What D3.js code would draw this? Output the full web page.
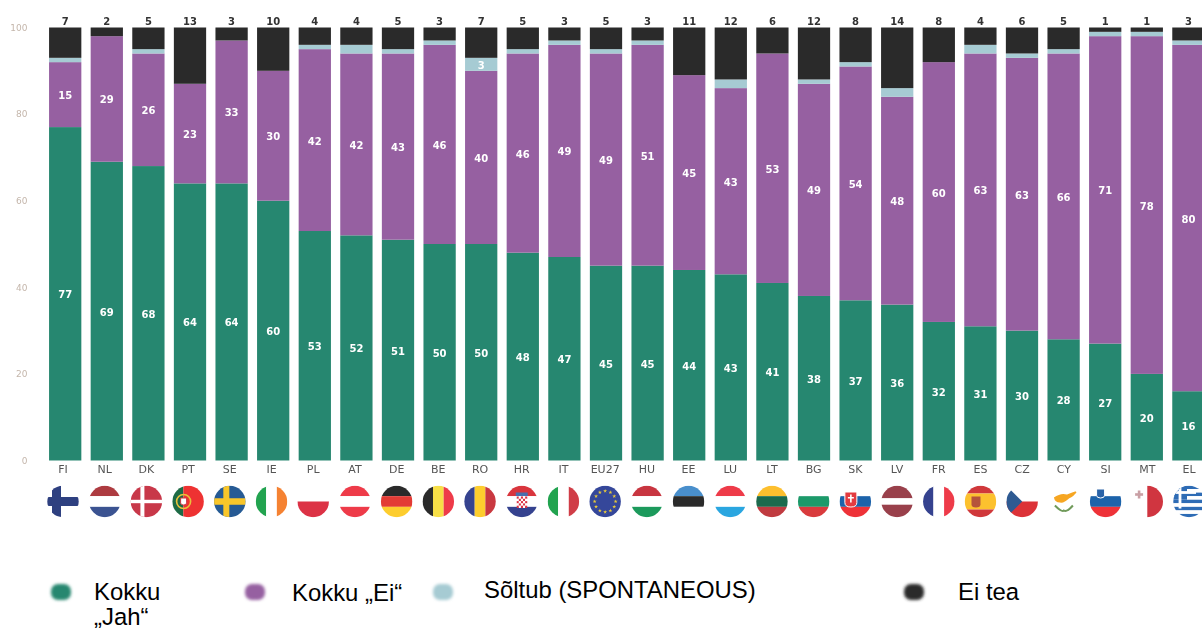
<!DOCTYPE html>
<html><head><meta charset="utf-8">
<script src="https://cdn.jsdelivr.net/npm/d3@7/dist/d3.min.js"></script>
<style>html,body{margin:0;padding:0;background:#fff;overflow:hidden}svg{display:block}</style>
</head><body><svg id="c" width="1202" height="630"></svg>
<script>
const categories=["FI","NL","DK","PT","SE","IE","PL","AT","DE","BE","RO","HR","IT","EU27","HU","EE","LU","LT","BG","SK","LV","FR","ES","CZ","CY","SI","MT","EL"];
const yesValues=[77,69,68,64,64,60,53,52,51,50,50,48,47,45,45,44,43,41,38,37,36,32,31,30,28,27,20,16];
const noValues=[15,29,26,23,33,30,42,42,43,46,40,46,49,49,51,45,43,53,49,54,48,60,63,63,66,71,78,80];
const dependsValues=[1,0,1,0,0,0,1,2,1,1,3,1,1,1,1,0,2,0,1,1,2,0,2,1,1,1,1,1];
const dontKnowValues=[7,2,5,13,3,10,4,4,5,3,7,5,3,5,3,11,12,6,12,8,14,8,4,6,5,1,1,3];
const yTicks=[0,20,40,60,80,100];
const seriesNames=["Kokku „Jah“","Kokku „Ei“","Sõltub (SPONTANEOUS)","Ei tea"];

const colors=["#288770","#9660a1","#a6cbd3","#2b2b2b"];
const series=[yesValues,noValues,dependsValues,dontKnowValues];
const svg=d3.select("#c");
const defs=svg.append("defs");
defs.append("filter").attr("id","soft").attr("x","-5%").attr("y","-5%").attr("width","110%").attr("height","110%")
  .append("feGaussianBlur").attr("stdDeviation",0.5);
defs.append("filter").attr("id","softDot").attr("x","-50%").attr("y","-50%").attr("width","200%").attr("height","200%")
  .append("feGaussianBlur").attr("stdDeviation",1.4);

const x=d3.scaleBand().domain(categories).range([44.4,1209.2]).paddingInner(0.224).paddingOuter(0.112);
const y=d3.scaleLinear().domain([0,100]).range([460.5,27.5]);
const labelX=d3.scalePoint().domain(categories).range([63,1189]);

const chart=svg.append("g").attr("filter","url(#soft)");
const stack=d3.stack().keys(d3.range(4)).value((d,k)=>series[k][d])(d3.range(categories.length));

const axis=d3.axisLeft(y).tickValues(yTicks).tickSize(0).tickPadding(0);
const yg=chart.append("g").attr("transform","translate(27.5,0)").call(axis);
yg.select(".domain").remove();
yg.selectAll("text").attr("font-family","DejaVu Sans").attr("font-size",9).attr("fill","#c4b6ab");

chart.selectAll("g.s").data(stack).join("g").attr("class","s").attr("fill",(d,i)=>colors[i])
 .selectAll("rect").data(d=>d.filter(p=>p[1]>p[0]).map(p=>({p,i:p.data}))).join("rect")
 .attr("x",d=>x(categories[d.i])).attr("width",x.bandwidth())
 .attr("y",d=>y(d.p[1])).attr("height",d=>y(d.p[0])-y(d.p[1]));

const valueLabels=[];
stack.forEach((s,k)=>s.forEach((p,i)=>{
  const v=series[k][i];
  if(k<2||(k===2&&v>=3)) valueLabels.push({i,v,m:(p[0]+p[1])/2});
}));
chart.append("g").selectAll("text").data(valueLabels).join("text")
 .attr("x",d=>x(categories[d.i])+x.bandwidth()/2).attr("y",d=>y(d.m)+4.5)
 .attr("text-anchor","middle").attr("font-family","DejaVu Sans").attr("font-weight","bold")
 .attr("font-size",10).attr("fill","#fff").text(d=>d.v);
chart.append("g").selectAll("text").data(categories).join("text")
 .attr("x",c=>x(c)+x.bandwidth()/2).attr("y",24.5)
 .attr("text-anchor","middle").attr("font-family","DejaVu Sans").attr("font-weight","bold")
 .attr("font-size",10).attr("fill","#333").text((c,i)=>dontKnowValues[i]);
chart.append("g").selectAll("text").data(categories).join("text")
 .attr("x",c=>labelX(c)).attr("y",473)
 .attr("text-anchor","middle").attr("font-family","DejaVu Sans")
 .attr("font-size",11).attr("fill","#555").text(c=>c);

// Flags
const R=16;
const C={bl:"#34438f",wh:"#fff",rd:"#ee3a4a",dr:"#c9383f",gr:"#21a350",ye:"#fdcd2f",bk:"#2b2b2b",sb:"#1f63aa"};
const cross=(g,c,vx,vw,hw)=>{
  g.append("rect").attr("x",vx).attr("y",-R).attr("width",vw).attr("height",2*R).attr("fill",c);
  g.append("rect").attr("x",-R).attr("y",-hw/2).attr("width",2*R).attr("height",hw).attr("fill",c);
};
const shield=(g,sx,sy,w,h,c,s)=>g.append("path")
  .attr("d",`M${sx-w/2},${sy-h/2}H${sx+w/2}V${sy+h/5}Q${sx+w/2},${sy+h/2} ${sx},${sy+h/2}Q${sx-w/2},${sy+h/2} ${sx-w/2},${sy+h/5}Z`)
  .attr("fill",c).attr("stroke",s||"none").attr("stroke-width",1);
const flags={
 FI:{h:[[C.wh,1]],x:g=>{
   g.append("rect").attr("x",-11).attr("y",-R).attr("width",9).attr("height",2*R).attr("fill","#2f3f80");
   g.append("rect").attr("x",-R).attr("y",-4.6).attr("width",2*R).attr("height",9.2).attr("rx",2).attr("fill","#2f3f80");}},
 NL:{h:[["#ad3a41",1],[C.wh,1],["#3a5291",1]]},
 DK:{h:[["#c8374a",1]],x:g=>cross(g,C.wh,-6,4,3.4)},
 PT:{v:[["#1f6b45",35],["#ee3333",65]],x:g=>{
   g.append("circle").attr("cx",-4.5).attr("r",7).attr("fill","none").attr("stroke","#e8c23a").attr("stroke-width",1.6);
   shield(g,-4.5,0,6,7,"#fff","#c9383f");}},
 SE:{h:[["#255a94",1]],x:g=>cross(g,"#f9c62a",-6.5,6,6.5)},
 IE:{v:[[C.gr,1],[C.wh,1],["#f58233",1]]},
 PL:{h:[[C.wh,1],["#dc3045",1]]},
 AT:{h:[[C.rd,1],[C.wh,1],[C.rd,1]]},
 DE:{h:[[C.bk,1],["#e33b35",1],[C.ye,1]]},
 BE:{v:[[C.bk,1],["#f7df47",1],[C.rd,1]]},
 RO:{v:[[C.bl,1],[C.ye,1],[C.dr,1]]},
 HR:{h:[["#d9363e",1],[C.wh,1],[C.bl,1]],x:g=>{
   const n=d3.range(5);
   g.append("g").selectAll("rect").data(d3.cross(n,n)).join("rect")
    .attr("x",d=>-5+d[0]*2.1).attr("y",d=>-5+d[1]*2.3).attr("width",2.1).attr("height",2.3)
    .attr("fill",d=>(d[0]+d[1])%2?"#fff":"#dd3344");
   g.append("rect").attr("x",-6).attr("y",-9).attr("width",12).attr("height",3.5).attr("fill","#4a6fae");}},
 IT:{v:[[C.gr,1],[C.wh,1],["#d03e47",1]]},
 EU27:{h:[["#34479a",1]],x:g=>{
   g.append("g").selectAll("path").data(d3.range(12)).join("path")
    .attr("d",d3.symbol(d3.symbolStar,5))
    .attr("transform",a=>`translate(${10.5*Math.sin(a*Math.PI/6)},${-10.5*Math.cos(a*Math.PI/6)})`)
    .attr("fill","#e8c93a");}},
 HU:{h:[["#c8353f",1],[C.wh,1],["#1f9a5b",1]]},
 EE:{h:[["#4a8fcc",1],[C.bk,1],[C.wh,1]]},
 LU:{h:[[C.rd,1],[C.wh,1],["#2aa6e0",1]]},
 LT:{h:[["#fdbf2d",1],["#1f6b4e",1],["#c03a3f",1]]},
 BG:{h:[[C.wh,1],["#1f9a6b",1],["#d93a3d",1]]},
 SK:{h:[[C.wh,1],[C.sb,1],["#ee3338",1]],x:g=>{
   shield(g,-4.5,-2,12,15,"#e33b3f","#fff");
   g.append("rect").attr("x",-5.3).attr("y",-7).attr("width",1.6).attr("height",8).attr("fill","#fff");
   g.append("rect").attr("x",-7.5).attr("y",-4.5).attr("width",6).attr("height",1.5).attr("fill","#fff");}},
 LV:{h:[["#99404b",2],[C.wh,1],["#99404b",2]]},
 FR:{v:[[C.bl,1],[C.wh,1],[C.rd,1]]},
 ES:{h:[["#d0383a",1],["#fcc12f",2],["#d0383a",1]],x:g=>shield(g,-4.5,0.5,9,11,"#b5533a")},
 CZ:{h:[[C.wh,1],["#dc3339",1]],x:g=>g.append("path").attr("d",`M${-R},${-R}L0,0L${-R},${R}Z`).attr("fill","#2e5a92")},
 CY:{h:[[C.wh,1]],x:g=>{
   g.append("path").attr("d","M-10,-4Q-3,-9 3,-7Q8,-9 14,-11Q10,-5 5,-3Q0,2 -4,1Q-9,1 -10,-4Z").attr("fill","#f6a623");
   g.append("path").attr("d","M-9,4Q-2,11 0,9Q3,11 9,4").attr("fill","none").attr("stroke","#6f9a5a").attr("stroke-width",2);}},
 SI:{h:[[C.wh,1],[C.sb,1],["#ee3338",1]],x:g=>shield(g,-5,-8,8,9,"#2a63a8","#fff")},
 MT:{v:[[C.wh,1],["#d0353f",1]],x:g=>{
   g.append("rect").attr("x",-9.5).attr("y",-11).attr("width",2.6).attr("height",8).attr("fill","#c9a0a5");
   g.append("rect").attr("x",-12.2).attr("y",-8.3).attr("width",8).attr("height",2.6).attr("fill","#c9a0a5");}},
 EL:{h:[["#2f6cb5",1],[C.wh,1],["#2f6cb5",1],[C.wh,1],["#2f6cb5",1],[C.wh,1],["#2f6cb5",1],[C.wh,1],["#2f6cb5",1]],x:g=>{
   g.append("rect").attr("x",-R).attr("y",-R).attr("width",14).attr("height",14.2).attr("fill","#2f6cb5");
   cross(g.append("g").attr("transform","translate(-9,-9)"),C.wh,-1.4,2.8,2.8);}}
};
defs.append("clipPath").attr("id","fc").append("circle").attr("r",R-0.3);
const fg=chart.append("g").selectAll("g").data(categories).join("g")
  .attr("transform",c=>`translate(${labelX(c)},501.5)`).attr("clip-path","url(#fc)");
fg.each(function(c){
  const f=flags[c],g=d3.select(this),b=f.h||f.v,horizontal=!!f.h;
  const tot=d3.sum(b,d=>d[1]);
  const s=d3.scaleLinear().domain([0,tot]).range([-R,R]);
  let a=0;
  b.forEach(([col,w])=>{
    g.append("rect").attr("x",horizontal?-R:s(a)).attr("y",horizontal?s(a):-R)
     .attr("width",horizontal?2*R:s(a+w)-s(a)).attr("height",horizontal?s(a+w)-s(a):2*R).attr("fill",col);
    a+=w;
  });
  if(f.x) f.x(g);
});

// Legend
const legendDotX=[61,255,443,914];
const legendTextX=[94,292,484,958];
const legendBase=[600,601,598,600];
const lg=svg.append("g");
lg.selectAll("rect").data(seriesNames).join("rect")
 .attr("x",(d,i)=>legendDotX[i]-10).attr("y",584).attr("width",20).attr("height",16).attr("rx",7)
 .attr("fill",(d,i)=>colors[i]).attr("filter","url(#softDot)");
const lt=lg.selectAll("text").data(seriesNames).join("text")
 .attr("x",(d,i)=>legendTextX[i]).attr("y",(d,i)=>legendBase[i])
 .attr("font-family","Liberation Sans").attr("font-size",23.9).attr("fill","#000");
lt.each(function(d,i){
  const t=d3.select(this);
  if(i===0){
    t.append("tspan").attr("x",legendTextX[i]).text("Kokku");
    t.append("tspan").attr("x",legendTextX[i]).attr("dy",24.5).text("„Jah“");
  } else t.text(d);
});
</script></body></html>
